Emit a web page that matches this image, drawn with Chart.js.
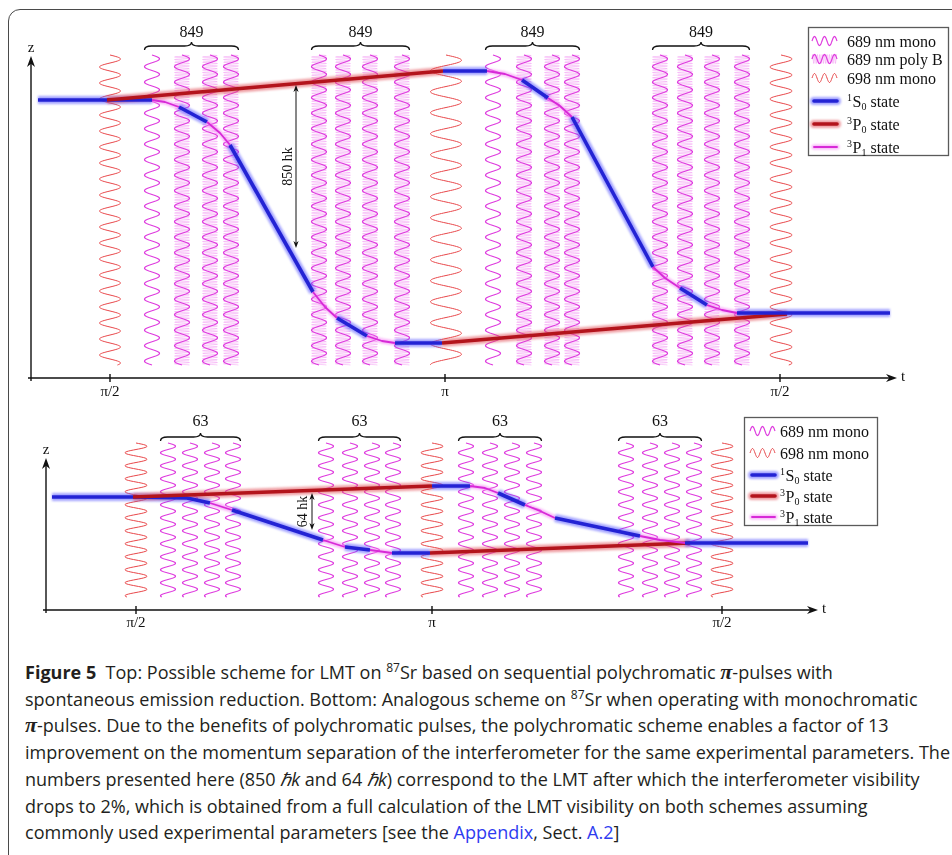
<!DOCTYPE html>
<html>
<head>
<meta charset="utf-8">
<title>LMT schemes on 87Sr</title>
<script src="https://cdn.jsdelivr.net/npm/chart.js@4.4.1/dist/chart.umd.min.js"></script>
<style>
  html, body { margin: 0; padding: 0; background: #fff; }
  body { width: 952px; height: 855px; overflow: hidden; position: relative; }
  #frame { position: absolute; left: 8px; top: 9px; width: 990px; height: 900px;
           border: 1.5px solid #4a4a4a; border-radius: 12px; box-sizing: border-box; }
  #topChart { position: absolute; left: 0; top: 0; }
  #bottomChart { position: absolute; left: 0; top: 405px; }
  #caption { position: absolute; left: 25px; top: 659px; font-family: "Open Sans", sans-serif;
             font-size: 18px; line-height: 26.7px; color: #231f20; }
  #caption .ln { display: inline-block; white-space: nowrap; transform-origin: 0 50%; }
  #caption b { font-weight: 700; }
  #caption sup { font-size: 12px; vertical-align: 7px; line-height: 0; }
  #caption .pi { font-family: "Liberation Serif", serif; font-style: italic; font-weight: bold; font-size: 22px; }
  #caption a { color: #2e3cf0; text-decoration: none; }
</style>
</head>
<body>
<div id="frame"></div>
<canvas id="topChart" width="952" height="405"></canvas>
<canvas id="bottomChart" width="952" height="235"></canvas>
<div id="caption">
  <div><span class="ln"><b>Figure 5</b>&nbsp; Top: Possible scheme for LMT on <sup>87</sup>Sr based on sequential polychromatic <span class="pi">π</span>-pulses with</span></div>
  <div><span class="ln">spontaneous emission reduction. Bottom: Analogous scheme on <sup>87</sup>Sr when operating with monochromatic</span></div>
  <div><span class="ln"><span class="pi">π</span>-pulses. Due to the benefits of polychromatic pulses, the polychromatic scheme enables a factor of 13</span></div>
  <div><span class="ln">improvement on the momentum separation of the interferometer for the same experimental parameters. The</span></div>
  <div><span class="ln">numbers presented here (850 <i>ℏk</i> and 64 <i>ℏk</i>) correspond to the LMT after which the interferometer visibility</span></div>
  <div><span class="ln">drops to 2%, which is obtained from a full calculation of the LMT visibility on both schemes assuming</span></div>
  <div><span class="ln">commonly used experimental parameters [see the <a>Appendix</a>, Sect. <a>A.2</a>]</span></div>
</div>
<script>
// internal states of the atom along each arm
const S0 = 0, P0 = 1, P1 = 2;

// ---------- top panel: polychromatic pulses ----------
const topTickT = [79, 414, 749];
const topTickLabels = ['π/2', 'π', 'π/2'];
const top698T = [79, 415, 750];
const top689Groups = [[121, 151, 179, 200], [288, 312, 339, 371], [462, 493, 521, 541], [629, 654, 681, 711]];
const top689Poly = [[0, 1, 1, 1], [1, 1, 1, 1], [0, 1, 1, 1], [1, 1, 1, 1]];
const topGroupCounts = ['849', '849', '849', '849'];

// arm that is kicked up first by the 698 nm pulse
const topArmAT = [7, 76, 412, 456, 474, 491, 517, 529, 541, 622, 634, 649, 676, 691, 706, 859];
const topArmAZ = [278, 278, 307, 307, 304, 298, 280, 272, 261, 111, 100, 90, 73, 68, 65, 65];
const topArmAState = [S0, P0, S0, P1, P1, S0, P1, P1, S0, P1, P1, S0, P1, P1, S0];
// arm pushed down by the 689 nm sequence
const topArmBT = [76, 121, 134, 148, 176, 189, 199, 282, 294, 306, 336, 351, 364, 411, 756];
const topArmBZ = [278, 278, 276, 271, 256, 245, 233, 86, 71, 60, 42, 37, 35, 35, 64];
const topArmBState = [S0, P1, P1, S0, P1, P1, S0, P1, P1, S0, P1, P1, S0, P0];

const topSplitT = 265;
const topSplitZ = [293, 130];
const topSplitLabel = '850 hk';

// ---------- bottom panel: monochromatic pulses ----------
const botTickT = [90, 386, 676];
const botTickLabels = ['π/2', 'π', 'π/2'];
const bot698T = [90, 386, 676];
const bot689Groups = [[122, 144, 166, 187], [280, 304, 326, 347], [420, 444, 466, 488], [580, 604, 626, 648]];
const botGroupCounts = ['63', '63', '63', '63'];

const botArmAT = [6, 87, 386, 424, 439, 452, 479, 494, 509, 594, 614, 639, 762];
const botArmAZ = [113, 113, 124, 124, 122, 117, 105, 99, 92, 74, 70, 67, 67];
const botArmAState = [S0, P0, S0, P1, P1, S0, P1, P1, S0, P1, P1, S0];
const botArmBT = [87, 141, 164, 186, 277, 299, 324, 346, 384, 644];
const botArmBZ = [113, 112, 107, 100, 70, 63, 60, 57, 57, 67];
const botArmBState = [S0, S0, P1, S0, P1, S0, P1, S0, P0];

const botSplitT = 266;
const botSplitZ = [117, 80];
const botSplitLabel = '64 hk';

// ---------- styling ----------
const stateCore = ['#2323d4', '#b3141c', '#d72ad7'];
const stateHalo = ['rgba(90,90,255,0.55)', 'rgba(225,80,90,0.55)', 'rgba(245,130,245,0.6)'];
const stateCoreW = [3.6, 3.6, 1.8];
const stateHaloW = [8, 8, 5];
const SERIF = '"Liberation Serif", "Times New Roman", serif';

function armDatasets(T, Z, states, name) {
  const pts = T.map((t, i) => ({ x: t, y: Z[i] }));
  const common = { data: pts, pointRadius: 0, fill: false, tension: 0,
                   borderCapStyle: 'butt', borderJoinStyle: 'round' };
  return [
    Object.assign({}, common, {
      label: name, order: 1, borderColor: stateCore[0], borderWidth: 3.6,
      segment: {
        borderColor: c => stateCore[states[c.p0DataIndex]],
        borderWidth: c => stateCoreW[states[c.p0DataIndex]]
      }
    }),
    Object.assign({}, common, {
      label: name + ' glow', order: 2, glow: true, borderColor: stateHalo[0], borderWidth: 8,
      segment: {
        borderColor: c => stateHalo[states[c.p0DataIndex]],
        borderWidth: c => stateHaloW[states[c.p0DataIndex]]
      }
    })
  ];
}

// vertical sinusoid used for a laser pulse column
function vWave(ctx, cx, y0, y1, amp, period, color, lw, step) {
  ctx.save();
  ctx.beginPath();
  for (let y = y0; y <= y1; y += step || 0.5) {
    const xx = cx + amp * Math.sin((y - y0) / period * 2 * Math.PI);
    if (y === y0) ctx.moveTo(xx, y); else ctx.lineTo(xx, y);
  }
  ctx.strokeStyle = color;
  ctx.lineWidth = lw;
  ctx.stroke();
  ctx.restore();
}

// horizontal sinusoid for legend icons
function hWave(ctx, x0, x1, cy, amp, period, color, lw, step) {
  ctx.save();
  ctx.beginPath();
  for (let x = x0; x <= x1; x += step || 0.5) {
    const yy = cy - amp * Math.sin((x - x0) / period * 2 * Math.PI);
    if (x === x0) ctx.moveTo(x, yy); else ctx.lineTo(x, yy);
  }
  ctx.strokeStyle = color;
  ctx.lineWidth = lw;
  ctx.stroke();
  ctx.restore();
}

function arrowHead(ctx, x, y, dx, dy, len, half) {
  const px = -dy, py = dx;
  ctx.beginPath();
  ctx.moveTo(x, y);
  ctx.lineTo(x - dx * len + px * half, y - dy * len + py * half);
  ctx.lineTo(x - dx * len * 0.7, y - dy * len * 0.7);
  ctx.lineTo(x - dx * len - px * half, y - dy * len - py * half);
  ctx.closePath();
  ctx.fill();
}

function brace(ctx, x0, x1, y, h) {
  const m = (x0 + x1) / 2, r = 7;
  ctx.beginPath();
  ctx.moveTo(x0, y + h);
  ctx.quadraticCurveTo(x0, y, x0 + r, y);
  ctx.lineTo(m - r, y);
  ctx.quadraticCurveTo(m, y, m, y - h);
  ctx.quadraticCurveTo(m, y, m + r, y);
  ctx.lineTo(x1 - r, y);
  ctx.quadraticCurveTo(x1, y, x1, y + h);
  ctx.stroke();
}

function drawLegend(ctx, L) {
  ctx.save();
  ctx.fillStyle = '#fff';
  ctx.fillRect(L.box[0], L.box[1], L.box[2], L.box[3]);
  ctx.strokeStyle = '#5a5a5a';
  ctx.lineWidth = 1.3;
  ctx.strokeRect(L.box[0] + 0.5, L.box[1] + 0.5, L.box[2], L.box[3]);
  L.items.forEach((it, i) => {
    const cy = L.rows[i];
    const ix0 = L.iconX, ix1 = L.iconX + 25;
    if (it.kind === 'mono') {
      hWave(ctx, ix0, ix1, cy, 4.5, 10, '#de3ade', 1.2);
    } else if (it.kind === 'poly') {
      hWave(ctx, ix0, ix1, cy, 4.5, 2.4, 'rgba(238,120,238,0.6)', 0.7, 0.2);
      hWave(ctx, ix0, ix1, cy, 4.5, 10, '#de3ade', 1.2);
    } else if (it.kind === 'red') {
      hWave(ctx, ix0, ix1, cy, 4.5, 10, '#e8474a', 1);
    } else {
      ctx.save();
      ctx.lineCap = 'round';
      ctx.filter = 'blur(1px)';
      ctx.strokeStyle = stateHalo[it.kind];
      ctx.lineWidth = stateHaloW[it.kind];
      ctx.beginPath(); ctx.moveTo(ix0 + 2, cy); ctx.lineTo(ix1, cy); ctx.stroke();
      ctx.filter = 'none';
      ctx.strokeStyle = stateCore[it.kind];
      ctx.lineWidth = stateCoreW[it.kind];
      ctx.beginPath(); ctx.moveTo(ix0 + 2, cy); ctx.lineTo(ix1, cy); ctx.stroke();
      ctx.restore();
    }
    ctx.fillStyle = '#111';
    ctx.textBaseline = 'alphabetic';
    ctx.textAlign = 'left';
    const base = cy + 5.5;
    if (it.text) {
      ctx.font = '16px ' + SERIF;
      ctx.fillText(it.text, L.textX, base);
    } else {
      let x = L.textX;
      ctx.font = '10px ' + SERIF;
      ctx.fillText(it.sup, x, base - 6);
      x += ctx.measureText(it.sup).width + 0.5;
      ctx.font = '16px ' + SERIF;
      ctx.fillText(it.base, x, base);
      x += ctx.measureText(it.base).width;
      ctx.font = '10px ' + SERIF;
      ctx.fillText(it.sub, x, base + 3);
      x += ctx.measureText(it.sub).width;
      ctx.font = '16px ' + SERIF;
      ctx.fillText(' state', x, base);
    }
  });
  ctx.restore();
}

function diagramPlugin(cfg) {
  return {
    id: 'diagram',
    beforeDatasetsDraw(chart) {
      const { ctx, scales: { x, y } } = chart;
      const yTop = y.getPixelForValue(cfg.waveZ[1]);
      const yBot = y.getPixelForValue(cfg.waveZ[0]);
      cfg.groups.forEach((g, gi) => g.forEach((t, k) => {
        const px = x.getPixelForValue(t);
        if (cfg.poly && cfg.poly[gi][k]) {
          vWave(ctx, px, yTop, yBot, cfg.mono.amp, 2.6, 'rgba(238,120,238,0.55)', 0.7, 0.25);
        }
        vWave(ctx, px, yTop, yBot, cfg.mono.amp, cfg.mono.period, '#de3ade', 1.2);
      }));
      cfg.red.forEach((t, i) => {
        const st = cfg.redStyle[i];
        vWave(ctx, x.getPixelForValue(t), yTop, yBot, st.amp, st.period, '#e8474a', 1);
      });
    },
    beforeDatasetDraw(chart, args) {
      if (args.meta._dataset.glow) {
        chart.ctx.save();
        chart.ctx.filter = 'blur(1.2px)';
      }
    },
    afterDatasetDraw(chart, args) {
      if (args.meta._dataset.glow) chart.ctx.restore();
    },
    afterDatasetsDraw(chart) {
      const { ctx, chartArea: a, scales: { x, y } } = chart;
      const x0 = x.getPixelForValue(0), y0 = y.getPixelForValue(0);
      const yTop = y.getPixelForValue(cfg.waveZ[1]);
      ctx.save();
      ctx.strokeStyle = '#111';
      ctx.fillStyle = '#111';
      ctx.lineWidth = 1.4;

      // axes
      ctx.beginPath();
      ctx.moveTo(x0 - 3, y0); ctx.lineTo(a.right - 6, y0);
      const zTip = y.getPixelForValue(cfg.zTip);
      ctx.moveTo(x0, y0 + 3); ctx.lineTo(x0, zTip + 6);
      ctx.stroke();
      arrowHead(ctx, a.right, y0, 1, 0, 11, 4);
      arrowHead(ctx, x0, zTip, 0, -1, 11, 4);

      ctx.font = '15px ' + SERIF;
      ctx.textBaseline = 'middle';
      ctx.textAlign = 'left';
      ctx.fillText('t', a.right + 4, y0 - 1);
      ctx.textAlign = 'center';
      ctx.fillText('z', x0, zTip - 8);

      // tick marks and labels
      cfg.ticks.forEach((t, i) => {
        const px = x.getPixelForValue(t);
        ctx.beginPath(); ctx.moveTo(px, y0 - 4); ctx.lineTo(px, y0 + 4); ctx.stroke();
        ctx.fillText(cfg.tickLabels[i], px, y0 + cfg.tickGap);
      });

      // braces with pulse counts
      ctx.lineWidth = 1.3;
      ctx.font = '16px ' + SERIF;
      cfg.groups.forEach((g, gi) => {
        const l = x.getPixelForValue(g[0]) - cfg.mono.amp;
        const r = x.getPixelForValue(g[g.length - 1]) + cfg.mono.amp;
        brace(ctx, l, r, yTop - cfg.braceGap, 4);
        ctx.fillText(cfg.counts[gi], (l + r) / 2, yTop - cfg.labelGap);
      });

      // momentum separation marker
      const sx = x.getPixelForValue(cfg.splitT);
      const sa = y.getPixelForValue(cfg.splitZ[0]);
      const sb = y.getPixelForValue(cfg.splitZ[1]);
      ctx.lineWidth = 1;
      ctx.beginPath(); ctx.moveTo(sx, sa + 4); ctx.lineTo(sx, sb - 4); ctx.stroke();
      arrowHead(ctx, sx, sa, 0, -1, 7, 2.6);
      arrowHead(ctx, sx, sb, 0, 1, 7, 2.6);
      ctx.save();
      ctx.translate(sx - cfg.splitLabelGap, (sa + sb) / 2);
      ctx.rotate(-Math.PI / 2);
      ctx.font = '14px ' + SERIF;
      ctx.fillText(cfg.splitLabel, 0, 0);
      ctx.restore();
      ctx.restore();

      drawLegend(ctx, cfg.legend);
    }
  };
}

function buildChart(id, arms, cfg) {
  const datasets = [];
  arms.forEach(a => datasets.push(...armDatasets(a[0], a[1], a[2], a[3])));
  return new Chart(document.getElementById(id), {
    type: 'line',
    data: { datasets },
    options: {
      responsive: false,
      animation: false,
      devicePixelRatio: 1,
      layout: { padding: cfg.padding },
      scales: {
        x: { type: 'linear', min: 0, max: cfg.tMax, display: false },
        y: { type: 'linear', min: 0, max: cfg.zMax, display: false }
      },
      plugins: { legend: { display: false }, tooltip: { enabled: false } }
    },
    plugins: [diagramPlugin(cfg)]
  });
}

const stateItems = () => [
  { kind: S0, sup: '1', base: 'S', sub: '0' },
  { kind: P0, sup: '3', base: 'P', sub: '0' },
  { kind: P1, sup: '3', base: 'P', sub: '1' }
];

buildChart('topChart', [
  [topArmAT, topArmAZ, topArmAState, 'upper arm'],
  [topArmBT, topArmBZ, topArmBState, 'lower arm']
], {
  padding: { left: 31, right: 55, top: 48, bottom: 27 },
  tMax: 866, zMax: 330, zTip: 322,
  waveZ: [13, 323],
  groups: top689Groups, poly: top689Poly, counts: topGroupCounts,
  mono: { amp: 7.5, period: 15.5 },
  red: top698T,
  redStyle: [{ amp: 10.5, period: 16 }, { amp: 15.5, period: 21 }, { amp: 11, period: 16 }],
  ticks: topTickT, tickLabels: topTickLabels, tickGap: 14,
  braceGap: 9, labelGap: 22,
  splitT: topSplitT, splitZ: topSplitZ, splitLabel: topSplitLabel, splitLabelGap: 8,
  legend: {
    box: [808, 27, 140, 128], iconX: 812, textX: 847,
    rows: [41, 59, 78, 101, 124, 147],
    items: [
      { kind: 'mono', text: '689 nm mono' },
      { kind: 'poly', text: '689 nm poly B' },
      { kind: 'red', text: '698 nm mono' }
    ].concat(stateItems())
  }
});

buildChart('bottomChart', [
  [botArmAT, botArmAZ, botArmAState, 'upper arm'],
  [botArmBT, botArmBZ, botArmBState, 'lower arm']
], {
  padding: { left: 46, right: 134, top: 35, bottom: 30 },
  tMax: 772, zMax: 170, zTip: 152,
  waveZ: [13, 167],
  groups: bot689Groups, poly: null, counts: botGroupCounts,
  mono: { amp: 7.5, period: 13 },
  red: bot698T,
  redStyle: [{ amp: 11, period: 13 }, { amp: 11, period: 13 }, { amp: 11, period: 13 }],
  ticks: botTickT, tickLabels: botTickLabels, tickGap: 13,
  braceGap: 6, labelGap: 21,
  splitT: botSplitT, splitZ: botSplitZ, splitLabel: botSplitLabel, splitLabelGap: 9,
  legend: {
    box: [744, 12, 133, 108], iconX: 750, textX: 780,
    rows: [26, 48, 70, 91, 112],
    items: [
      { kind: 'mono', text: '689 nm mono' },
      { kind: 'red', text: '698 nm mono' }
    ].concat(stateItems())
  }
});

// squeeze the caption lines into the column width
const capLines = document.querySelectorAll('#caption .ln');
let widest = 0;
capLines.forEach(l => { widest = Math.max(widest, l.getBoundingClientRect().width); });
const squeeze = 925 / widest;
capLines.forEach(l => { l.style.transform = 'scaleX(' + squeeze + ')'; });
</script>
</body>
</html>
